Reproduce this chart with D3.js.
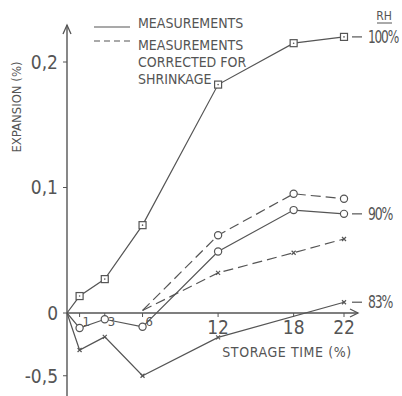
<!DOCTYPE html>
<html>
<head>
<meta charset="utf-8">
<script src="https://cdn.jsdelivr.net/npm/d3@7"></script>
<style>
  body { margin: 0; background: #fff; }
  svg { display: block; }
  text { font-family: "DejaVu Sans Condensed", "DejaVu Sans", sans-serif; font-stretch: condensed; fill: #555; }
</style>
</head>
<body>
<svg id="chart" width="402" height="396"></svg>
<script>
// storage time (days) and expansion (%)
const timeFull = [0, 1, 3, 6, 12, 18, 22];
const rh100 = [0, 0.0135, 0.027, 0.070, 0.182, 0.215, 0.220];
const rh90 = [0, -0.012, -0.005, -0.011, 0.049, 0.082, 0.079];
const time83 = [0, 1, 3, 6, 12, 22];
const rh83 = [0, -0.0295, -0.019, -0.050, -0.0194, 0.0086];
const timeCorr = [6, 12, 18, 22];
const rh90Corr = [0.002, 0.062, 0.095, 0.091];
const rh83Corr = [0.002, 0.032, 0.048, 0.059];

const xTicks = [1, 3, 6, 12, 18, 22];
const yTicks = [0.2, 0.1, 0, -0.05];
const yTickLabels = ['0,2', '0,1', '0', '-0,5'];

const series = [
  { x: timeFull, y: rh100, marker: 'square', dashed: false, label: '100%' },
  { x: timeFull, y: rh90, marker: 'circle', dashed: false, label: '90%' },
  { x: time83, y: rh83, marker: 'cross', dashed: false, label: '83%' },
  { x: timeCorr, y: rh90Corr, marker: 'circle', dashed: true },
  { x: timeCorr, y: rh83Corr, marker: 'cross', dashed: true }
];

const ink = '#555';
const svg = d3.select('#chart');

const x = d3.scaleLinear().domain([0, 22]).range([67, 344]);
const y = d3.scaleLinear().domain([0, 0.2]).range([313, 62]);

// axes
const g = svg.append('g');
g.append('line').attr('x1', x(0)).attr('x2', 358).attr('y1', y(0)).attr('y2', y(0))
  .attr('stroke', ink).attr('stroke-width', 1.4);
g.append('path').attr('d', `M350,${y(0) - 4}L358,${y(0)}L350,${y(0) + 4}`)
  .attr('fill', 'none').attr('stroke', ink).attr('stroke-width', 1.3);
g.append('line').attr('x1', x(0)).attr('x2', x(0)).attr('y1', 396).attr('y2', 25)
  .attr('stroke', ink).attr('stroke-width', 1.4);
g.append('path').attr('d', `M${x(0) - 4},34L${x(0)},25L${x(0) + 4},34`)
  .attr('fill', 'none').attr('stroke', ink).attr('stroke-width', 1.3);

// x ticks
const xt = g.selectAll('.xt').data(xTicks).enter().append('g')
  .attr('transform', d => `translate(${x(d)},${y(0)})`);
xt.append('line').attr('y1', 0).attr('y2', 4).attr('stroke', ink);
xt.append('text')
  .attr('x', d => d < 10 ? 3 : 0)
  .attr('y', d => d < 10 ? 13 : 21)
  .attr('text-anchor', d => d < 10 ? 'start' : 'middle')
  .style('font-size', d => d < 10 ? '13px' : '19px')
  .text(d => d);

// y ticks
const yt = g.selectAll('.yt').data(yTicks).enter().append('g')
  .attr('transform', d => `translate(${x(0)},${y(d)})`);
yt.append('line').attr('x1', -4).attr('x2', 0).attr('stroke', ink);
yt.append('text').attr('x', -9).attr('dy', '0.36em').attr('text-anchor', 'end')
  .style('font-size', '19px').text((d, i) => yTickLabels[i]);

// axis titles
svg.append('text').attr('transform', 'translate(21,107) rotate(-90)')
  .attr('text-anchor', 'middle').style('font-size', '13px').text('EXPANSION (%)');
svg.append('text').attr('x', 287).attr('y', 357).attr('text-anchor', 'middle')
  .style('font-size', '14px').attr('letter-spacing', 0.6).text('STORAGE TIME (%)');

// lines
const line = d3.line().x(d => x(d[0])).y(d => y(d[1]));
series.forEach(s => {
  const pts = s.x.map((t, i) => [t, s.y[i]]);
  svg.append('path').attr('d', line(pts)).attr('fill', 'none')
    .attr('stroke', ink).attr('stroke-width', 1.2)
    .attr('stroke-dasharray', s.dashed ? '10,5' : null);
  const m = svg.selectAll(null).data(pts.slice(1)).enter().append('g')
    .attr('transform', d => `translate(${x(d[0])},${y(d[1])})`);
  if (s.marker === 'square') {
    m.append('rect').attr('x', -3.5).attr('y', -3.5).attr('width', 7).attr('height', 7)
      .attr('fill', '#fff').attr('stroke', ink).attr('stroke-width', 1.2);
    m.append('circle').attr('r', 0.8).attr('fill', ink);
  } else if (s.marker === 'circle') {
    m.append('circle').attr('r', 3.6).attr('fill', '#fff').attr('stroke', ink).attr('stroke-width', 1.2);
  } else {
    m.append('path').attr('d', 'M-2,-2L2,2M-2,2L2,-2').attr('stroke', ink).attr('stroke-width', 1.2);
  }
  if (s.label) {
    const last = pts[pts.length - 1];
    svg.append('line').attr('x1', x(last[0]) + 8).attr('x2', x(last[0]) + 18)
      .attr('y1', y(last[1])).attr('y2', y(last[1])).attr('stroke', ink).attr('stroke-width', 1.2);
    svg.append('text').attr('x', x(last[0]) + 24).attr('y', y(last[1])).attr('dy', '0.36em')
      .style('font-size', '17px').attr('letter-spacing', -1.5)
      .attr('textLength', s.label.length > 3 ? 30 : 24).attr('lengthAdjust', 'spacingAndGlyphs')
      .text(s.label);
  }
});

// RH heading
svg.append('text').attr('x', 384).attr('y', 20).attr('text-anchor', 'middle')
  .style('font-size', '12px').text('RH');
svg.append('line').attr('x1', 377).attr('x2', 392).attr('y1', 23).attr('y2', 23)
  .attr('stroke', ink);

// legend
const legend = svg.append('g');
legend.append('line').attr('x1', 94).attr('x2', 130).attr('y1', 27).attr('y2', 27)
  .attr('stroke', ink).attr('stroke-width', 1.2);
legend.append('line').attr('x1', 94).attr('x2', 130).attr('y1', 41).attr('y2', 41)
  .attr('stroke', ink).attr('stroke-width', 1.2).attr('stroke-dasharray', '6,4');
legend.append('text').attr('x', 138).attr('y', 28).style('font-size', '14px').text('MEASUREMENTS');
legend.selectAll(null).data(['MEASUREMENTS', 'CORRECTED FOR', 'SHRINKAGE']).enter()
  .append('text').attr('x', 138).attr('y', (d, i) => 50 + i * 17)
  .style('font-size', '14px').text(d => d);
</script>
</body>
</html>
